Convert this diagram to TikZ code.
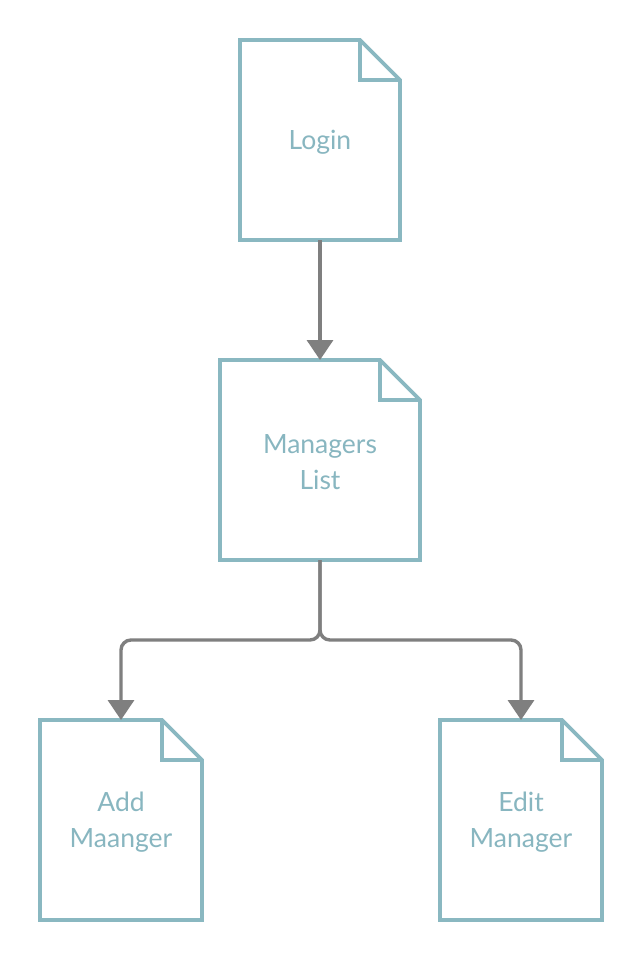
\documentclass[tikz,border=0pt]{standalone}
\usepackage{fontspec}
\setmainfont{Lato}
\usetikzlibrary{arrows.meta}
\definecolor{docblue}{HTML}{8AB8C1}
\definecolor{doctext}{HTML}{88B6C0}
\definecolor{arrowgray}{HTML}{7F7F7F}
\newcommand{\docoutline}[1]{%
  \draw[docline] (#1.north west) -- ([xshift=-40pt]#1.north east) -- ([yshift=-40pt]#1.north east) -- (#1.south east) -- (#1.south west) -- cycle;
  \draw[docline] ([xshift=-40pt]#1.north east) -- ([xshift=-40pt,yshift=-40pt]#1.north east) -- ([yshift=-40pt]#1.north east);}
\begin{document}
\begin{tikzpicture}[x=1pt,y=-1pt,
  docnode/.style={draw=none, inner sep=0pt, outer sep=0pt, minimum height=200pt},
  doclabel/.style={yshift=-2pt, inner sep=0pt, align=center, text=doctext, font=\fontsize{26.5}{36}\selectfont},
  docline/.style={draw=docblue, line width=3.6pt, line join=miter},
  flow/.style={draw=arrowgray, line width=3.4pt, -{Triangle[width=26pt,length=20pt]}}]
\useasboundingbox[fill=white] (0,0) rectangle (643,960);
\node[docnode, minimum width=160pt, label={[doclabel]center:Login}] (login) at (320,140) {};
\node[docnode, minimum width=200pt, label={[doclabel]center:Managers\\List}] (mgr) at (320,460) {};
\node[docnode, minimum width=162pt, label={[doclabel]center:Add\\Maanger}] (add) at (121,820) {};
\node[docnode, minimum width=162pt, label={[doclabel]center:Edit\\Manager}] (edit) at (521,820) {};
\docoutline{login}
\docoutline{mgr}
\docoutline{add}
\docoutline{edit}
\coordinate (split) at (320,640);
\draw[flow] (login.south) -- (mgr.north);
\draw[flow, rounded corners=10pt] (mgr.south) -- (split) -| (add.north);
\draw[flow, rounded corners=10pt] (mgr.south) -- (split) -| (edit.north);
\end{tikzpicture}
\end{document}
